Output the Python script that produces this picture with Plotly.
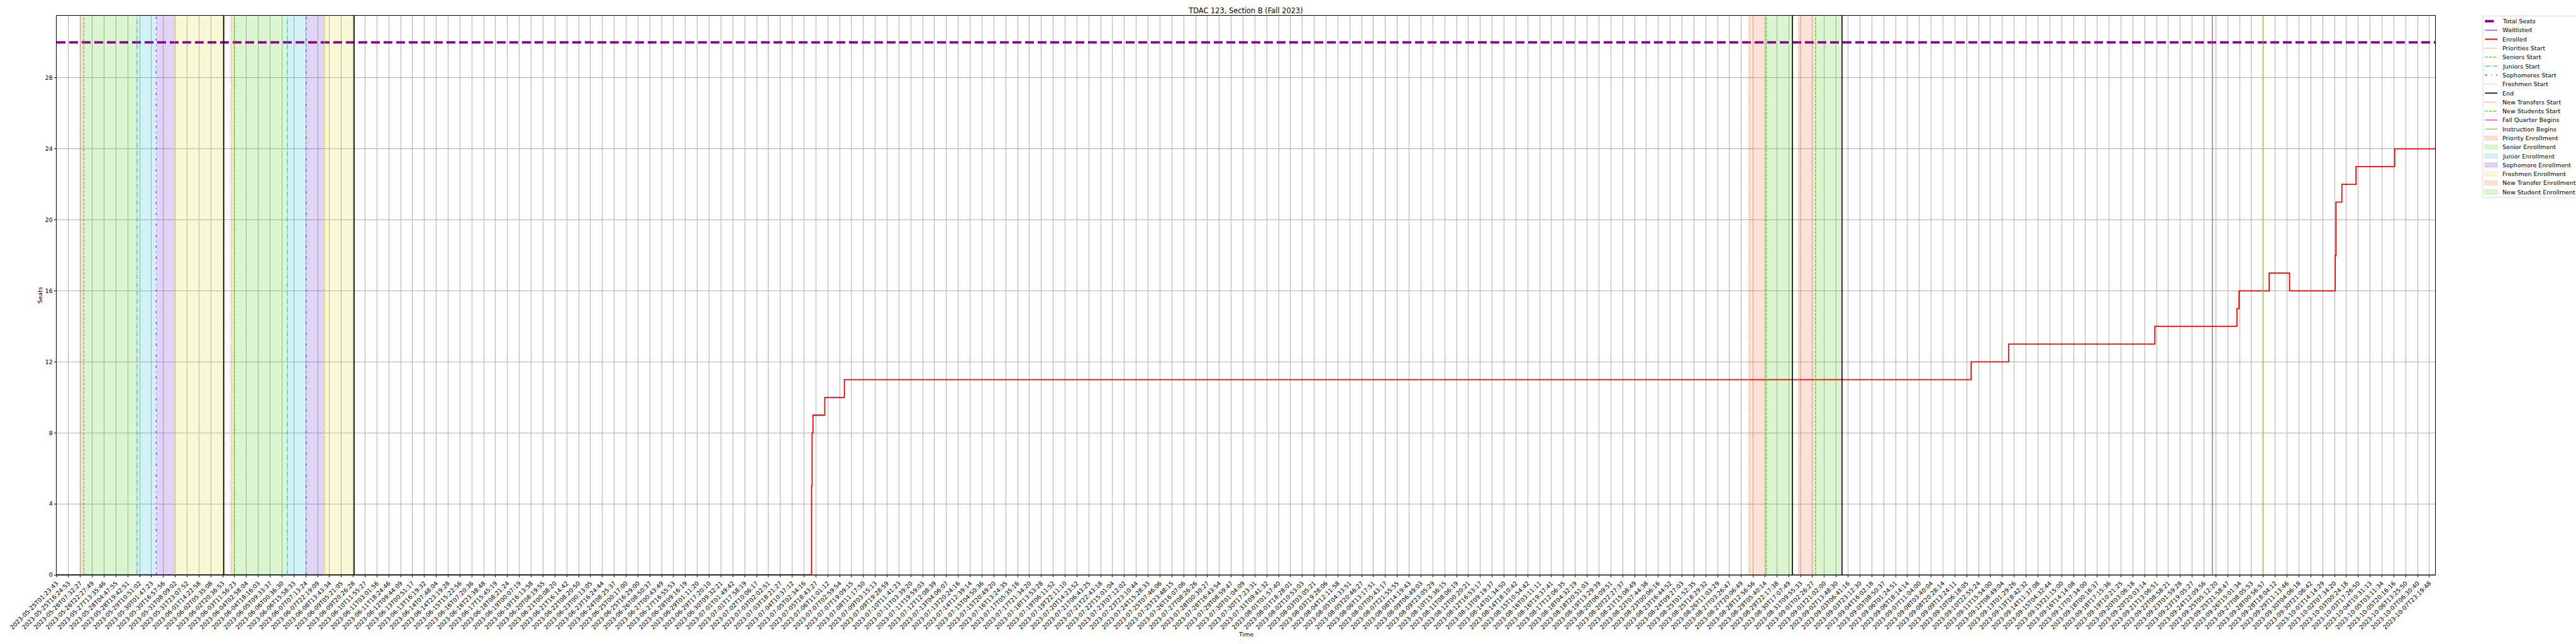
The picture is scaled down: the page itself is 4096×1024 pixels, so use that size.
import plotly.graph_objects as go

# ---------------- data ----------------
tick_labels = [
    "2023-05-25T01:23:43", "2023-05-25T16:24:53", "2023-05-26T07:32:27", "2023-05-26T22:27:49",
    "2023-05-27T13:35:46", "2023-05-28T04:47:55", "2023-05-28T19:42:51", "2023-05-29T10:51:02",
    "2023-05-30T01:47:23", "2023-05-30T16:57:56", "2023-05-31T08:09:02", "2023-05-31T23:07:52",
    "2023-06-01T14:22:58", "2023-06-02T05:35:08", "2023-06-02T20:36:53", "2023-06-03T11:56:23",
    "2023-06-04T02:58:04", "2023-06-04T18:16:03", "2023-06-05T09:33:37", "2023-06-06T00:36:30",
    "2023-06-06T15:58:33", "2023-06-07T07:13:24", "2023-06-07T22:19:09", "2023-06-08T13:43:34",
    "2023-06-09T05:21:05", "2023-06-09T20:26:28", "2023-06-10T11:55:27", "2023-06-11T03:01:56",
    "2023-06-11T18:24:46", "2023-06-12T09:44:09", "2023-06-13T00:51:17", "2023-06-13T16:19:32",
    "2023-06-14T07:48:04", "2023-06-14T23:19:28", "2023-06-15T15:22:56", "2023-06-16T07:20:36",
    "2023-06-16T23:38:48", "2023-06-17T15:45:19", "2023-06-18T08:21:24", "2023-06-19T00:07:19",
    "2023-06-19T16:13:58", "2023-06-20T08:19:55", "2023-06-21T00:08:20", "2023-06-21T16:14:42",
    "2023-06-22T08:20:50", "2023-06-23T00:13:05", "2023-06-23T16:24:44", "2023-06-24T08:25:37",
    "2023-06-25T00:17:00", "2023-06-25T16:29:00", "2023-06-26T08:50:37", "2023-06-27T00:43:49",
    "2023-06-27T16:55:53", "2023-06-28T09:16:19", "2023-06-29T01:11:20", "2023-06-29T17:20:10",
    "2023-06-30T09:32:21", "2023-07-01T01:49:42", "2023-07-01T17:58:19", "2023-07-02T10:06:17",
    "2023-07-03T02:02:51", "2023-07-03T18:21:27", "2023-07-04T10:37:12", "2023-07-05T02:34:16",
    "2023-07-05T18:43:27", "2023-07-06T11:01:12", "2023-07-07T02:59:54", "2023-07-07T19:09:15",
    "2023-07-08T11:17:50", "2023-07-09T03:15:13", "2023-07-09T19:28:59", "2023-07-10T11:41:23",
    "2023-07-11T03:39:20", "2023-07-11T19:59:03", "2023-07-12T12:08:39", "2023-07-13T04:06:07",
    "2023-07-13T20:24:16", "2023-07-14T12:39:14", "2023-07-15T04:50:36", "2023-07-15T20:49:20",
    "2023-07-16T13:24:35", "2023-07-17T05:35:16", "2023-07-17T21:34:20", "2023-07-18T13:53:28",
    "2023-07-19T06:11:52", "2023-07-19T22:11:10", "2023-07-20T14:23:52", "2023-07-21T06:43:25",
    "2023-07-21T22:43:18", "2023-07-22T15:01:04", "2023-07-23T07:12:02", "2023-07-23T23:10:44",
    "2023-07-24T15:28:33", "2023-07-25T07:46:06", "2023-07-25T23:48:15", "2023-07-26T16:07:06",
    "2023-07-27T08:26:26", "2023-07-28T00:30:27", "2023-07-28T16:43:54", "2023-07-29T08:59:47",
    "2023-07-30T01:04:09", "2023-07-30T17:23:31", "2023-07-31T09:41:32", "2023-08-01T01:57:40",
    "2023-08-01T18:28:01", "2023-08-02T10:53:03", "2023-08-03T03:05:21", "2023-08-03T19:28:06",
    "2023-08-04T12:11:58", "2023-08-05T04:33:51", "2023-08-05T20:46:27", "2023-08-06T13:17:51",
    "2023-08-07T05:43:17", "2023-08-07T21:55:55", "2023-08-08T14:19:43", "2023-08-09T06:49:03",
    "2023-08-09T23:05:29", "2023-08-10T15:36:15", "2023-08-11T08:06:19", "2023-08-12T00:20:21",
    "2023-08-12T16:53:17", "2023-08-13T09:19:37", "2023-08-14T01:34:50", "2023-08-14T18:10:42",
    "2023-08-15T10:54:42", "2023-08-16T03:11:11", "2023-08-16T19:37:41", "2023-08-17T12:06:35",
    "2023-08-18T04:32:19", "2023-08-18T20:51:03", "2023-08-19T13:29:39", "2023-08-20T06:09:51",
    "2023-08-20T22:27:37", "2023-08-21T15:08:49", "2023-08-22T07:44:38", "2023-08-23T00:06:16",
    "2023-08-23T16:44:52", "2023-08-24T09:27:03", "2023-08-25T01:52:35", "2023-08-25T18:29:32",
    "2023-08-26T11:03:29", "2023-08-27T03:26:47", "2023-08-27T20:06:49", "2023-08-28T12:56:56",
    "2023-08-29T05:40:14", "2023-08-29T22:17:38", "2023-08-30T17:07:49", "2023-08-31T09:55:33",
    "2023-09-01T02:26:27", "2023-09-01T21:02:00", "2023-09-02T13:48:30", "2023-09-03T06:41:16",
    "2023-09-03T23:12:30", "2023-09-04T16:02:18", "2023-09-05T08:50:37", "2023-09-06T01:24:51",
    "2023-09-06T18:14:14", "2023-09-07T11:04:00", "2023-09-08T03:40:04", "2023-09-08T20:28:14",
    "2023-09-09T13:24:11", "2023-09-10T06:18:05", "2023-09-10T22:55:24", "2023-09-11T15:54:00",
    "2023-09-12T08:49:04", "2023-09-13T01:29:26", "2023-09-13T18:42:32", "2023-09-14T11:37:08",
    "2023-09-15T04:32:44", "2023-09-15T21:15:00", "2023-09-16T14:14:08", "2023-09-17T07:34:00",
    "2023-09-18T00:16:37", "2023-09-18T17:15:36", "2023-09-19T10:21:25", "2023-09-20T03:06:18",
    "2023-09-20T20:03:14", "2023-09-21T13:06:51", "2023-09-22T08:58:21", "2023-09-23T01:59:28",
    "2023-09-23T19:05:27", "2023-09-24T12:09:56", "2023-09-25T05:12:20", "2023-09-25T21:58:47",
    "2023-09-26T15:01:34", "2023-09-27T08:05:53", "2023-09-28T00:56:57", "2023-09-28T18:04:12",
    "2023-09-29T11:13:46", "2023-09-30T04:06:18", "2023-09-30T21:06:42", "2023-10-01T14:14:29",
    "2023-10-02T07:34:20", "2023-10-03T00:24:18", "2023-10-03T17:26:50", "2023-10-04T10:31:13",
    "2023-10-05T03:11:34", "2023-10-05T20:16:16", "2023-10-06T13:25:50", "2023-10-07T06:30:40",
    "2023-10-07T23:19:48",
]
tick_positions = list(range(len(tick_labels)))

# timeline position of samples (in tick-label units along the sampled timeline)
timeline_end = 200.48
total_seats = 30
y_limit = 31.5
y_ticks = [0, 4, 8, 12, 16, 20, 24, 28]

enrolled_x = [0, 63.63, 63.68, 63.75, 64.75, 66.40, 161.37, 164.53, 176.85, 183.78, 183.95,
              186.49, 188.21, 192.06, 192.12, 192.62, 193.81, 197.07, 200.48]
enrolled_y = [0, 5, 8, 9, 10, 11, 12, 13, 14, 15, 16, 17, 16, 18, 21, 22, 23, 24, 24]
waitlisted_x = [0, 200.48]
waitlisted_y = [0, 0]
seats_x = [0, 200.48]
seats_y = [30, 30]

priorities_start = [1.99, 14.70]
seniors_start = [2.29, 14.99]
juniors_start = [6.78, 19.45]
sophomores_start = [8.40, 21.04]
freshmen_start = [9.95, 22.60]
end_times = [14.09, 25.08, 146.31, 150.49]
new_transfers_start = [142.65, 146.84]
new_students_start = [144.10, 148.26]
fall_quarter_begins = [181.70]
instruction_begins = [185.97]

# ---------------- styles ----------------
FONT = "DejaVu Sans"
C_PRIO = (238, 110, 50)
C_SEN = (68, 204, 17)
C_JUN = (23, 197, 211)
C_SOPH = (106, 42, 214)
C_FRESH = (222, 222, 42)
C_FALL = "#e0179f"
C_INSTR = "#8cb028"


def rgb(c, a=1.0):
    return f"rgba({c[0]},{c[1]},{c[2]},{a})"


VW = 1.23  # vline width
D_DOT = "1.23px,2.03px"
D_DASH = "4.56px,1.97px"
D_DASHDOT = "7.89px,1.97px,1.23px,1.97px"
D_SOPH = "3.7px,6.2px,1.23px,6.2px"
D_FRESH = "3.7px,1.23px,1.23px,1.23px,1.23px,1.23px"
D_SEATS = "14px,6px"

fig = go.Figure()


# ---------------- spans ----------------
def add_span(starts, ends, color):
    xs, ys = [], []
    for a, b in zip(starts, ends):
        xs += [a, a, b, b, a, None]
        ys += [0, y_limit, y_limit, 0, 0, None]
    fig.add_trace(go.Scatter(x=xs, y=ys, mode="lines", fill="toself",
                             fillcolor=rgb(color, 0.2), line=dict(width=0),
                             hoverinfo="skip", showlegend=False))


add_span(priorities_start, seniors_start, C_PRIO)
add_span(seniors_start, juniors_start, C_SEN)
add_span(juniors_start, sophomores_start, C_JUN)
add_span(sophomores_start, freshmen_start, C_SOPH)
add_span(freshmen_start, end_times[:2], C_FRESH)
add_span(new_transfers_start, new_students_start, C_PRIO)
add_span(new_students_start, end_times[2:], C_SEN)

# ---------------- data lines ----------------
fig.add_trace(go.Scatter(x=seats_x, y=seats_y, mode="lines", name="Total Seats",
                         line=dict(color="#800080", width=3.8, dash=D_SEATS), showlegend=False))
fig.add_trace(go.Scatter(x=waitlisted_x, y=waitlisted_y, mode="lines", name="Waitlisted",
                         line=dict(color="#0000ff", width=0.9), showlegend=False))
fig.add_trace(go.Scatter(x=enrolled_x, y=enrolled_y, mode="lines", name="Enrolled",
                         line=dict(color="#ff0000", width=1.8, shape="hv"), showlegend=False))


# ---------------- vertical lines ----------------
def add_vlines(xs_in, color, dash, width=VW):
    xs, ys = [], []
    for v in xs_in:
        xs += [v, v, None]
        ys += [0, y_limit, None]
    fig.add_trace(go.Scatter(x=xs, y=ys, mode="lines",
                             line=dict(color=color, width=width, dash=dash),
                             hoverinfo="skip", showlegend=False))


add_vlines(priorities_start, rgb(C_PRIO), D_DOT)
add_vlines(seniors_start, rgb(C_SEN), D_DASH)
add_vlines(juniors_start, rgb(C_JUN), D_DASHDOT)
add_vlines(sophomores_start, rgb(C_SOPH), D_SOPH)
add_vlines(freshmen_start, rgb(C_FRESH), D_FRESH)
add_vlines(end_times, "#000000", "solid", 1.6)
add_vlines(new_transfers_start, rgb(C_PRIO), D_DOT)
add_vlines(new_students_start, rgb(C_SEN), D_DASH)
add_vlines(fall_quarter_begins, C_FALL, "solid", 1.1)
add_vlines(instruction_begins, C_INSTR, "solid", 1.1)

# ---------------- layout ----------------
W, H = 4096, 1024
L, R, T, B = 90, 224, 25, 110
PW, PH = W - L - R, H - T - B


def px_x(px):
    return (px - L) / PW


def px_y(py):
    return 1 - (py - T) / PH


axis_common = dict(showgrid=True, gridcolor="#b0b0b0", gridwidth=0.75,
                   showline=True, linecolor="black", linewidth=0.8, mirror=True,
                   ticks="outside", ticklen=3.3, tickwidth=0.8, tickcolor="black",
                   zeroline=False, tickfont=dict(family=FONT, size=9.5, color="black"))

fig.update_layout(
    width=W, height=H,
    margin=dict(l=L, r=R, t=T, b=B, autoexpand=False),
    plot_bgcolor="white", paper_bgcolor="white",
    showlegend=False,
    font=dict(family=FONT, size=9.5, color="black"),
    title=dict(text="TDAC 123, Section B (Fall 2023)", x=0.5, xref="paper", xanchor="center",
               y=1 - 17 / H, yref="container", yanchor="middle",
               font=dict(family=FONT, size=11.4, color="black")),
    xaxis=dict(range=[0, timeline_end], tickmode="array", tickvals=tick_positions,
               ticktext=tick_labels, tickangle=-45, **axis_common),
    yaxis=dict(range=[0, y_limit], tickmode="array", tickvals=y_ticks,
               ticktext=[str(v) for v in y_ticks], **axis_common),
)

# axis titles
fig.add_annotation(text="Time", xref="paper", yref="paper", x=0.5, y=px_y(1009),
                   xanchor="center", yanchor="middle", showarrow=False,
                   font=dict(family=FONT, size=9.5, color="black"))
fig.add_annotation(text="Seats", xref="paper", yref="paper", x=px_x(63), y=0.5,
                   xanchor="center", yanchor="middle", showarrow=False, textangle=-90,
                   font=dict(family=FONT, size=9.5, color="black"))

# ---------------- legend (drawn) ----------------
legend_items = [
    ("Total Seats", "line", "#800080", 3.8, D_SEATS),
    ("Waitlisted", "line", "#0000ff", 0.9, "solid"),
    ("Enrolled", "line", "#ff0000", 1.8, "solid"),
    ("Priorities Start", "line", rgb(C_PRIO), VW, D_DOT),
    ("Seniors Start", "line", rgb(C_SEN), VW, D_DASH),
    ("Juniors Start", "line", rgb(C_JUN), VW, D_DASHDOT),
    ("Sophomores Start", "line", rgb(C_SOPH), VW, D_SOPH),
    ("Freshmen Start", "line", rgb(C_FRESH), VW, D_FRESH),
    ("End", "line", "#000000", 1.6, "solid"),
    ("New Transfers Start", "line", rgb(C_PRIO), VW, D_DOT),
    ("New Students Start", "line", rgb(C_SEN), VW, D_DASH),
    ("Fall Quarter Begins", "line", C_FALL, 1.1, "solid"),
    ("Instruction Begins", "line", C_INSTR, 1.1, "solid"),
    ("Priority Enrollment", "patch", C_PRIO, None, None),
    ("Senior Enrollment", "patch", C_SEN, None, None),
    ("Junior Enrollment", "patch", C_JUN, None, None),
    ("Sophomore Enrollment", "patch", C_SOPH, None, None),
    ("Freshmen Enrollment", "patch", C_FRESH, None, None),
    ("New Transfer Enrollment", "patch", C_PRIO, None, None),
    ("New Student Enrollment", "patch", C_SEN, None, None),
]

box_left, box_top, box_bottom = 3948, 25.5, 314
fig.add_shape(type="rect", xref="paper", yref="paper",
              x0=px_x(box_left), x1=px_x(W + 10), y0=px_y(box_bottom), y1=px_y(box_top),
              line=dict(color="#cccccc", width=0.8), fillcolor="rgba(255,255,255,0.8)", layer="above")

h_x0, h_x1, text_x = 3951.3, 3971.1, 3978.3
row0, row_step = 33.7, 14.29
for i, (label, kind, color, width, dash) in enumerate(legend_items):
    yc = row0 + row_step * i
    if kind == "line":
        fig.add_shape(type="line", xref="paper", yref="paper",
                      x0=px_x(h_x0), x1=px_x(h_x1), y0=px_y(yc), y1=px_y(yc),
                      line=dict(color=color, width=width, dash=dash), layer="above")
    else:
        fig.add_shape(type="rect", xref="paper", yref="paper",
                      x0=px_x(h_x0), x1=px_x(h_x1), y0=px_y(yc + 3.4), y1=px_y(yc - 3.4),
                      line=dict(color=rgb(color, 0.3), width=0.8),
                      fillcolor=rgb(color, 0.2), layer="above")
    fig.add_annotation(text=label, xref="paper", yref="paper", x=px_x(text_x), y=px_y(yc),
                       xanchor="left", yanchor="middle", showarrow=False,
                       font=dict(family=FONT, size=9.5, color="black"), borderpad=0)

fig.write_html("out.html", config={"displayModeBar": False},
               post_script="document.body.style.margin='0';document.body.style.overflow='hidden';")
